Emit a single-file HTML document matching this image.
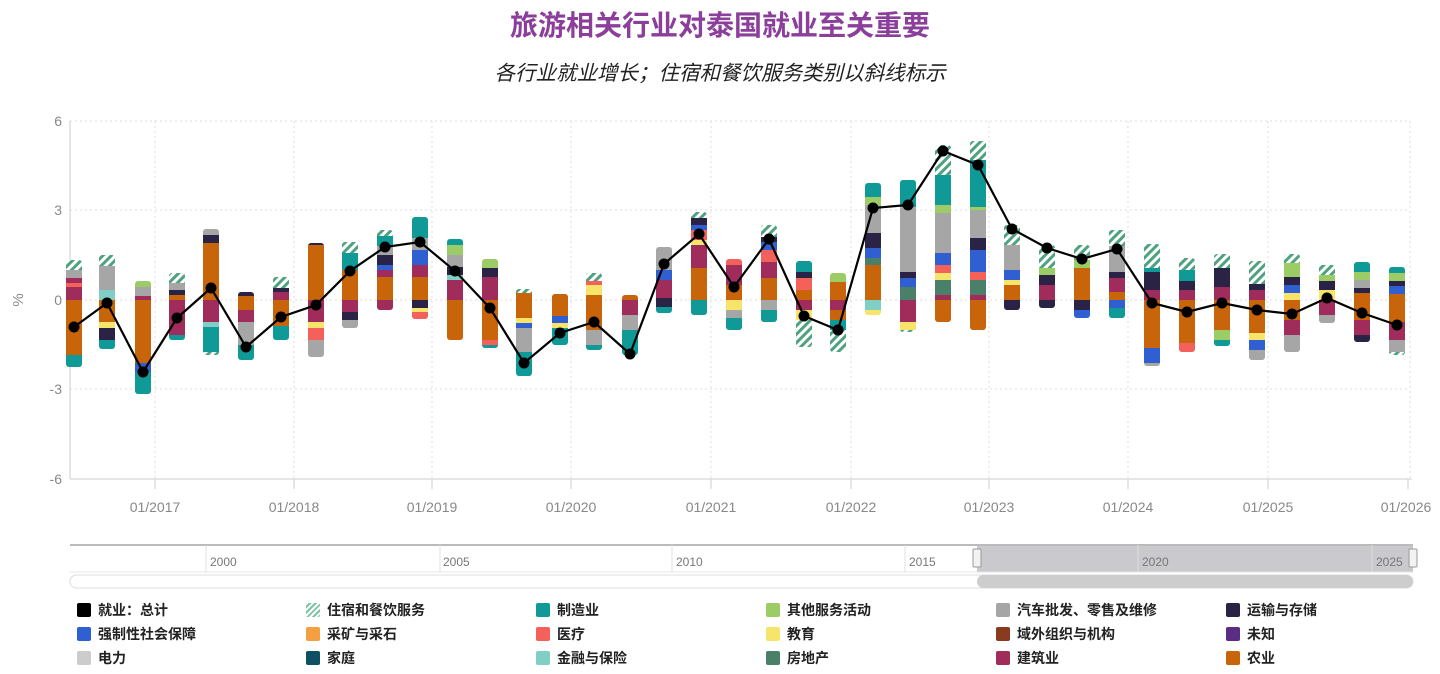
<!DOCTYPE html>
<html><head><meta charset="utf-8">
<style>
body{margin:0;width:1440px;height:674px;background:#fff;overflow:hidden;font-family:"Liberation Sans","Noto Sans CJK SC",sans-serif;}
.t{position:absolute;left:0;width:1440px;text-align:center;}
.lg{position:absolute;font-size:14px;font-weight:bold;color:#222;height:18px;line-height:18px;}
.lg i{display:inline-block;width:14px;height:14px;border-radius:2px;vertical-align:-2px;margin-right:7px;}
</style></head><body>
<div class="t" style="top:4px;font-size:28px;font-weight:bold;color:#8b3f9b;">旅游相关行业对泰国就业至关重要</div>
<div class="t" style="top:56px;font-size:20.5px;font-style:italic;color:#222;">各行业就业增长；住宿和餐饮服务类别以斜线标示</div>
<svg id="s" width="1440" height="674" style="position:absolute;left:0;top:0" xmlns="http://www.w3.org/2000/svg">
<defs><pattern id="h" width="6" height="6" patternUnits="userSpaceOnUse" patternTransform="rotate(45)"><rect width="6" height="6" fill="#fff"/><rect width="3" height="6" fill="#4fa27f"/></pattern></defs>
<g stroke="#ddd" stroke-dasharray="2,3">
<line x1="70" y1="121" x2="1410" y2="121"/><line x1="70" y1="210" x2="1410" y2="210"/><line x1="70" y1="300" x2="1410" y2="300"/><line x1="70" y1="389" x2="1410" y2="389"/>
<line x1="155" y1="121" x2="155" y2="479"/><line x1="294" y1="121" x2="294" y2="479"/><line x1="432" y1="121" x2="432" y2="479"/><line x1="571" y1="121" x2="571" y2="479"/><line x1="711" y1="121" x2="711" y2="479"/><line x1="851" y1="121" x2="851" y2="479"/><line x1="989" y1="121" x2="989" y2="479"/><line x1="1128" y1="121" x2="1128" y2="479"/><line x1="1268" y1="121" x2="1268" y2="479"/><line x1="1410" y1="121" x2="1410" y2="479"/>
</g>
<g stroke="#ccc"><line x1="70" y1="121" x2="70" y2="479"/><line x1="70" y1="479" x2="1412" y2="479"/>
<line x1="155" y1="479" x2="155" y2="489"/><line x1="294" y1="479" x2="294" y2="489"/><line x1="432" y1="479" x2="432" y2="489"/><line x1="571" y1="479" x2="571" y2="489"/><line x1="711" y1="479" x2="711" y2="489"/><line x1="851" y1="479" x2="851" y2="489"/><line x1="989" y1="479" x2="989" y2="489"/><line x1="1128" y1="479" x2="1128" y2="489"/><line x1="1268" y1="479" x2="1268" y2="489"/><line x1="1408" y1="479" x2="1408" y2="489"/></g>
<g fill="#888" font-size="14" text-anchor="end" font-family="Liberation Sans,sans-serif"><text x="62" y="126">6</text><text x="62" y="215">3</text><text x="62" y="305">0</text><text x="62" y="394">-3</text><text x="62" y="484">-6</text></g>
<text x="23" y="300" fill="#888" font-size="15" text-anchor="middle" transform="rotate(-90 23 300)">%</text>
<g fill="#888" font-size="14" text-anchor="middle" font-family="Liberation Sans,sans-serif"><text x="155" y="512">01/2017</text><text x="294" y="512">01/2018</text><text x="432" y="512">01/2019</text><text x="571" y="512">01/2020</text><text x="711" y="512">01/2021</text><text x="851" y="512">01/2022</text><text x="989" y="512">01/2023</text><text x="1128" y="512">01/2024</text><text x="1268" y="512">01/2025</text><text x="1406" y="512">01/2026</text></g>
<g id="bars"></g>
<g id="ln"></g>
<rect x="977" y="545" width="436" height="27" fill="#c9c9ce"/>
<line x1="70" y1="545" x2="1413" y2="545" stroke="#bbb" stroke-width="2"/>
<line x1="70" y1="572" x2="1413" y2="572" stroke="#e4e4e4"/>
<g stroke="#e0e0e0"><line x1="206" y1="545" x2="206" y2="572"/><line x1="440" y1="545" x2="440" y2="572"/><line x1="672" y1="545" x2="672" y2="572"/><line x1="905" y1="545" x2="905" y2="572"/><line x1="1138" y1="545" x2="1138" y2="572"/><line x1="1372" y1="545" x2="1372" y2="572"/></g>
<g fill="#777" font-size="12" font-family="Liberation Sans,sans-serif"><text x="210" y="566">2000</text><text x="443" y="566">2005</text><text x="676" y="566">2010</text><text x="909" y="566">2015</text><text x="1142" y="566">2020</text><text x="1376" y="566">2025</text></g>
<rect x="973" y="549" width="8" height="18" rx="1" fill="#f2f2f2" stroke="#999"/><rect x="1409" y="549" width="8" height="18" rx="1" fill="#f2f2f2" stroke="#999"/>
<rect x="70" y="575" width="1343" height="13" rx="6.5" fill="#fff" stroke="#ddd"/>
<rect x="977" y="575" width="436" height="13" rx="6.5" fill="#cdcdcd"/>
</svg>
<div class="lg" style="left:77px;top:601px"><i style="background:#000"></i>就业：总计</div>
<div class="lg" style="left:306px;top:601px"><i style="background:repeating-linear-gradient(135deg,#fff 0 2px,#7cc3a3 2px 4px)"></i>住宿和餐饮服务</div>
<div class="lg" style="left:536px;top:601px"><i style="background:#0f9a98"></i>制造业</div>
<div class="lg" style="left:766px;top:601px"><i style="background:#9ccc65"></i>其他服务活动</div>
<div class="lg" style="left:996px;top:601px"><i style="background:#a6a6a6"></i>汽车批发、零售及维修</div>
<div class="lg" style="left:1226px;top:601px"><i style="background:#2a2346"></i>运输与存储</div>
<div class="lg" style="left:77px;top:625px"><i style="background:#2f5fd0"></i>强制性社会保障</div>
<div class="lg" style="left:306px;top:625px"><i style="background:#f5a040"></i>采矿与采石</div>
<div class="lg" style="left:536px;top:625px"><i style="background:#f4605a"></i>医疗</div>
<div class="lg" style="left:766px;top:625px"><i style="background:#f6e56a"></i>教育</div>
<div class="lg" style="left:996px;top:625px"><i style="background:#8a3a1e"></i>域外组织与机构</div>
<div class="lg" style="left:1226px;top:625px"><i style="background:#5a2d82"></i>未知</div>
<div class="lg" style="left:77px;top:649px"><i style="background:#ccc"></i>电力</div>
<div class="lg" style="left:306px;top:649px"><i style="background:#0e4f63"></i>家庭</div>
<div class="lg" style="left:536px;top:649px"><i style="background:#7fcfc6"></i>金融与保险</div>
<div class="lg" style="left:766px;top:649px"><i style="background:#4a7f6a"></i>房地产</div>
<div class="lg" style="left:996px;top:649px"><i style="background:#a02c5c"></i>建筑业</div>
<div class="lg" style="left:1226px;top:649px"><i style="background:#c8650a"></i>农业</div>
<script>
var C={H:"url(#h)",T:"#0f9a98",L:"#9ccc65",G:"#a6a6a6",N:"#2a2346",B:"#2f5fd0",O:"#f5a040",R:"#f4605a",Y:"#f6e56a",M:"#a02c5c",A:"#c8650a",Q:"#7fcfc6",E:"#4a7f6a",D:"#0e4f63"};
var X=[74,107,143,177,211,246,281,316,350,385,420,455,490,524,560,594,630,664,699,734,769,804,838,873,908,943,978,1012,1047,1082,1117,1152,1187,1222,1257,1292,1327,1362,1397];
var B=[
"H260 G270 M278 R283 M287 A300 T355 |367",
"H255 G266 Q290 A300 Y322 N328 T340 |349",
"L281 G287 M296 A300 B363 T372 |394",
"H273 G283 N290 A295 M300 T335 |340",
"G229 N235 A243 M300 Q322 T327 H352 |355",
"N292 A296 M310 G322 T345 |360",
"H277 N288 M292 A300 T326 |340",
"N243 A245 M300 Y322 R328 G340 |357",
"H242 T253 A270 M300 N312 G320 |328",
"H230 T236 G246 N255 B265 M270 A277 M300 |310",
"T217 G238 B250 M265 A277 N300 Y308 R312 |319",
"T239 L245 G255 N267 Q275 M280 A300 |340",
"L259 N268 M277 A300 R340 T345 |348",
"H289 A293 Y318 B323 G328 T352 |376",
"A294 B316 Y323 T328 |345",
"H273 R281 Y285 A295 G330 T345 |350",
"A295 M300 G315 T330 |355",
"G247 B270 M280 N298 T307 |313",
"H212 N218 B225 R230 Y240 M245 A268 T300 |315",
"R259 M265 A285 Y300 G310 T318 |330",
"H225 N237 B242 R250 M262 A278 G300 T310 |322",
"T261 N272 R278 A290 M300 Y310 H320 |347",
"L273 A282 M300 A310 T320 H330 |352",
"T183 L197 G205 N233 B248 E258 A265 Q300 Y310 |315",
"T180 G207 N272 B278 E287 M300 Y322 H330 |332",
"H145 T175 L205 G213 B253 R265 Y273 E280 M295 A300 |322",
"H141 T160 L207 G210 N238 B250 R272 E280 M295 A300 |330",
"H225 G245 B270 Y280 A285 N300 |310",
"H245 L268 N275 M285 N300 |308",
"H245 L260 A268 N300 B310 |318",
"H230 G246 N272 M278 A292 B300 T308 |318",
"H244 T268 N272 M290 A300 B348 G363 |366",
"H258 T270 N281 M290 A300 R343 |352",
"H254 N268 M287 A300 L330 T340 |346",
"H261 N284 M290 A300 Y333 B340 G350 |360",
"H254 L263 N277 B285 Y293 A300 M320 G335 |352",
"H265 L275 N281 Y290 M300 G315 |323",
"T262 L272 G280 N288 A293 M320 N335 |342",
"T267 L273 N281 B286 A294 M322 G340 H352 |355"];
var g=document.getElementById("bars"),h="";
B.forEach(function(s,i){var p=s.split(" "),x=X[i]-8,segs=[];var end=+p[p.length-1].slice(1);
for(var k=0;k<p.length-1;k++){var c=p[k][0],y=+p[k].slice(1),y2=(k+1<p.length-1)?+p[k+1].slice(1):end;segs.push([c,y,y2]);}
var top=segs[0][1];h+='<clipPath id="c'+i+'"><rect x="'+x+'" y="'+top+'" width="16" height="'+(end-top)+'" rx="3"/></clipPath><g clip-path="url(#c'+i+')">';
segs.forEach(function(q){h+='<rect x="'+x+'" y="'+q[1]+'" width="16" height="'+(q[2]-q[1]+0.5)+'" fill="'+C[q[0]]+'"/>';});h+='</g>';});
g.innerHTML=h;
var Y=[327,303,372,318,288,347,317,305,271,247,242,271,308,363,333,322,354,264,234,287,239,316,330,208,205,151,165,229,248,259,249,303,312,303,310,314,298,313,325];
var l='<polyline fill="none" stroke="#000" stroke-width="2.2" points="'+X.map(function(x,i){return x+","+Y[i]}).join(" ")+'"/>';
X.forEach(function(x,i){l+='<circle cx="'+x+'" cy="'+Y[i]+'" r="5.5" fill="#000"/>';});
document.getElementById("ln").innerHTML=l;
</script>
</body></html>
